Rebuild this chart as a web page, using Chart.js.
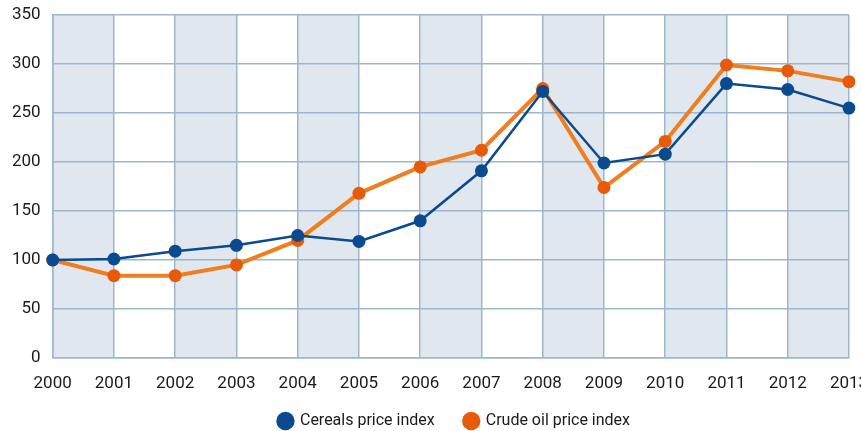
<!DOCTYPE html>
<html>
<head>
<meta charset="utf-8">
<script src="https://cdn.jsdelivr.net/npm/chart.js@4.4.1/dist/chart.umd.min.js"></script>
<style>
  html, body { margin: 0; padding: 0; background: #fff; }
  #wrap { width: 861px; height: 431px; }
</style>
</head>
<body>
<div id="wrap"><canvas id="chart"></canvas></div>
<script>
const YEARS = ['2000', '2001', '2002', '2003', '2004', '2005', '2006', '2007', '2008', '2009', '2010', '2011', '2012', '2013'];
const CEREALS = [100, 101, 109, 115, 125, 119, 140, 191, 272, 199, 208, 280, 274, 255];
const CRUDE_OIL = [100, 84, 84, 95, 120, 168, 195, 212, 275, 174, 221, 299, 293, 282];
const Y_TICKS = [0, 50, 100, 150, 200, 250, 300, 350];

const BLUE = '#0b4a8e';
const ORANGE_LINE = '#f07d1e';
const ORANGE_DOT = '#e65a0a';
const GRID = '#9db6cd';
const BAND = '#e1e7ef';
const FONT = "Roboto, sans-serif";

// shade every other year band, starting with 2000-2001
const bandPlugin = {
  id: 'bands',
  beforeDraw(chart) {
    const { ctx, chartArea, scales } = chart;
    ctx.save();
    ctx.fillStyle = BAND;
    for (let i = 0; i < YEARS.length - 1; i += 2) {
      const x0 = scales.x.getPixelForValue(i);
      const x1 = scales.x.getPixelForValue(i + 1);
      ctx.fillRect(x0, chartArea.top, x1 - x0, chartArea.bottom - chartArea.top);
    }
    ctx.restore();
  },
};

// legend padding also sets the gap between items; keep the box itself short
// in the layout, then stretch its top up so the item row sits where it should
const legendHeightPlugin = {
  id: 'legendHeight',
  afterInit(chart) {
    const legend = chart.legend;
    const fit = legend.fit;
    legend.fit = function () {
      fit.call(this);
      this.height = 35;
    };
  },
  afterLayout(chart) {
    chart.legend.top -= 13;
    // the original legend sits a bit right of centre
    chart.legend.left += 30;
    chart.legend.right += 30;
  },
};

new Chart(document.getElementById('chart'), {
  type: 'line',
  data: {
    labels: YEARS,
    datasets: [
      {
        label: 'Cereals price index',
        data: CEREALS,
        borderColor: BLUE,
        backgroundColor: BLUE,
        pointBackgroundColor: BLUE,
        pointBorderColor: BLUE,
        borderWidth: 2.5,
        pointRadius: 6.5,
        pointBorderWidth: 0,
        tension: 0,
        order: 0,
      },
      {
        label: 'Crude oil price index',
        data: CRUDE_OIL,
        borderColor: ORANGE_LINE,
        backgroundColor: ORANGE_DOT,
        pointBackgroundColor: ORANGE_DOT,
        pointBorderColor: ORANGE_DOT,
        borderWidth: 4,
        pointRadius: 6.5,
        pointBorderWidth: 0,
        tension: 0,
        order: 1,
      },
    ],
  },
  options: {
    responsive: true,
    maintainAspectRatio: false,
    animation: false,
    layout: { padding: { left: 0, right: 12, top: 15, bottom: 0 } },
    plugins: {
      tooltip: { enabled: false },
      legend: {
        position: 'bottom',
        labels: {
          usePointStyle: true,
          pointStyle: 'circle',
          boxWidth: 13,
          boxHeight: 13,
          padding: 30,
          color: '#1a1a1a',
          font: { family: FONT, size: 16 },
        },
      },
    },
    scales: {
      x: {
        type: 'category',
        offset: false,
        grid: { color: GRID, lineWidth: 1.5, drawTicks: false },
        border: { color: GRID, width: 1.5 },
        ticks: {
          color: '#1a1a1a',
          font: { family: FONT, size: 17 },
          padding: 16,
          maxRotation: 0,
          autoSkip: false,
        },
        afterFit(scale) {
          scale.paddingRight = 0;
          scale.paddingLeft = 0;
          scale.height = 38;
        },
      },
      y: {
        min: 0,
        max: 350,
        afterBuildTicks(scale) {
          scale.ticks = Y_TICKS.map((v) => ({ value: v }));
        },
        afterFit(scale) {
          scale.paddingTop = 0;
        },
        grid: { color: GRID, lineWidth: 1.5, drawTicks: false },
        border: { color: GRID, width: 1.5 },
        ticks: {
          color: '#1a1a1a',
          font: { family: FONT, size: 17 },
          padding: 12,
        },
      },
    },
  },
  plugins: [bandPlugin, legendHeightPlugin],
});
</script>
</body>
</html>
